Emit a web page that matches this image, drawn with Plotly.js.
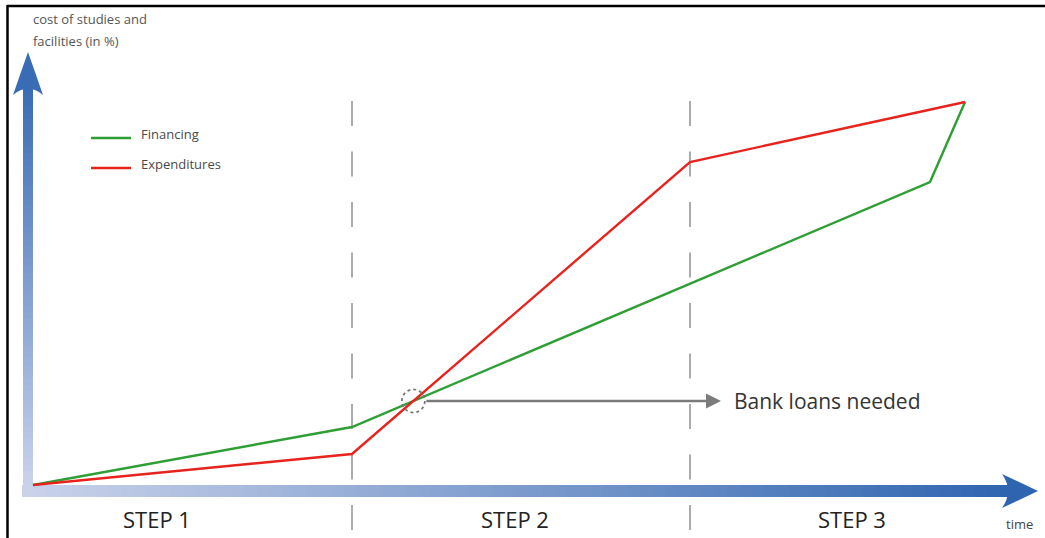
<!DOCTYPE html>
<html>
<head>
<meta charset="utf-8">
<script src="https://cdn.plot.ly/plotly-3.0.1.min.js"></script>
<style>
html,body{margin:0;padding:0;background:#fff;}
#chart{width:1045px;height:538px;}
</style>
</head>
<body>
<div id="chart"></div>
<script>
// ---- data ----
const seriesNames = ["Financing", "Expenditures"];
const financingTime = [0, 31.9, 89.7, 93.2];
const financingCost = [0, 14.5, 75.75, 95.75];
const expendituresTime = [0, 31.9, 65.7, 93.2];
const expendituresCost = [0, 7.75, 80.75, 95.75];
const stepBoundaries = [31.9, 65.7];
const stepLabels = ["STEP 1", "STEP 2", "STEP 3"];
const stepCenters = [12.4, 48.2, 81.9];
const annotationText = "Bank loans needed";
const yTitleLines = ["cost of studies and", "facilities (in %)"];
const xTitle = "time";

// ---- helpers (pixel <-> data for decoration) ----
const px2x = p => (p - 33) / 10;
const py2y = p => (485 - p) / 4;
const FONT = "'Open Sans', sans-serif";
const GREEN = "#2f9e35";
const RED = "#e8231d";

function hexToRgb(h){h=h.replace('#','');return [0,2,4].map(i=>parseInt(h.substr(i,2),16));}
function mix(a,b,t){const A=hexToRgb(a),B=hexToRgb(b);return 'rgb('+A.map((v,i)=>Math.round(v+(B[i]-v)*t)).join(',')+')';}

// intersection of the two series (beyond origin)
function findCross(){
  for(let i=0;i<financingTime.length-1;i++){
    for(let j=0;j<expendituresTime.length-1;j++){
      const x1=financingTime[i],y1=financingCost[i],x2=financingTime[i+1],y2=financingCost[i+1];
      const x3=expendituresTime[j],y3=expendituresCost[j],x4=expendituresTime[j+1],y4=expendituresCost[j+1];
      const d=(x1-x2)*(y3-y4)-(y1-y2)*(x3-x4);
      if(Math.abs(d)<1e-9) continue;
      const t=((x1-x3)*(y3-y4)-(y1-y3)*(x3-x4))/d;
      const u=-((x1-x2)*(y1-y3)-(y1-y2)*(x1-x3))/d;
      if(t>=0&&t<=1&&u>=0&&u<=1){
        const cx=x1+t*(x2-x1), cy=y1+t*(y2-y1);
        if(cx>1) return [cx,cy];
      }
    }
  }
  return [0,0];
}
const cross = findCross();

const shapes = [];
// frame
shapes.push({type:'line',xref:'paper',yref:'paper',x0:7/1045,x1:1,y0:1-6/538,y1:1-6/538,line:{color:'#000',width:2.5}});
shapes.push({type:'line',xref:'paper',yref:'paper',x0:7.5/1045,x1:7.5/1045,y0:0,y1:1-5/538,line:{color:'#000',width:2.5}});

// horizontal gradient arrow shaft
const NH = 80, hx0 = 22, hx1 = 1012;
for(let i=0;i<NH;i++){
  const a = hx0 + (hx1-hx0)*i/NH, b = hx0 + (hx1-hx0)*(i+1)/NH + 0.8;
  shapes.push({type:'rect',layer:'below',x0:px2x(a),x1:px2x(b),y0:py2y(485),y1:py2y(497),
    fillcolor:mix('#cad2ea','#2f65b0',i/(NH-1)),line:{width:0}});
}
shapes.push({type:'path',layer:'below',
  path:`M ${px2x(1002)},${py2y(474)} L ${px2x(1038)},${py2y(491)} L ${px2x(1002)},${py2y(508)} Q ${px2x(1014)},${py2y(491)} ${px2x(1002)},${py2y(474)} Z`,
  fillcolor:'#2f65b0',line:{width:0}});

// vertical gradient arrow shaft
const NV = 60, vy0 = 485, vy1 = 86;
for(let i=0;i<NV;i++){
  const a = vy0 + (vy1-vy0)*i/NV, b = vy0 + (vy1-vy0)*(i+1)/NV - 0.8;
  shapes.push({type:'rect',layer:'below',x0:px2x(23),x1:px2x(33),y0:py2y(a),y1:py2y(b),
    fillcolor:mix('#c9d1ea','#3a6cb5',i/(NV-1)),line:{width:0}});
}
shapes.push({type:'path',layer:'below',
  path:`M ${px2x(13)},${py2y(95)} L ${px2x(28)},${py2y(52)} L ${px2x(43)},${py2y(95)} Q ${px2x(28)},${py2y(82)} ${px2x(13)},${py2y(95)} Z`,
  fillcolor:'#3a6cb5',line:{width:0}});

// step boundaries (dashed)
stepBoundaries.forEach(b=>{
  shapes.push({type:'line',layer:'below',x0:b,x1:b,y0:py2y(101),y1:py2y(530),
    line:{color:'#ababab',width:2,dash:'25px,25.5px'}});
});

// dotted circle at crossing
shapes.push({type:'circle',x0:cross[0]-1.15,x1:cross[0]+1.15,y0:cross[1]-2.9,y1:cross[1]+2.9,
  line:{color:'#777',width:1.8,dash:'dot'}});

// legend samples
shapes.push({type:'line',x0:px2x(91),x1:px2x(131),y0:py2y(138),y1:py2y(138),line:{color:GREEN,width:2.6}});
shapes.push({type:'line',x0:px2x(91),x1:px2x(131),y0:py2y(168),y1:py2y(168),line:{color:RED,width:2.6}});

const annotations = [];
annotations.push({x:px2x(139),y:py2y(134),text:seriesNames[0],showarrow:false,xanchor:'left',yanchor:'middle',font:{family:FONT,size:13,color:'#4a4a4a'}});
annotations.push({x:px2x(139),y:py2y(164),text:seriesNames[1],showarrow:false,xanchor:'left',yanchor:'middle',font:{family:FONT,size:13,color:'#4a4a4a'}});
annotations.push({x:px2x(31),y:py2y(19),text:yTitleLines[0],showarrow:false,xanchor:'left',yanchor:'middle',font:{family:FONT,size:13,color:'#555'}});
annotations.push({x:px2x(31),y:py2y(41),text:yTitleLines[1],showarrow:false,xanchor:'left',yanchor:'middle',font:{family:FONT,size:13,color:'#555'}});
annotations.push({x:px2x(1019),y:py2y(524),text:xTitle,showarrow:false,xanchor:'center',yanchor:'middle',font:{family:FONT,size:13,color:'#444'}});
stepLabels.forEach((s,i)=>{
  annotations.push({x:stepCenters[i],y:py2y(519),text:s,showarrow:false,xanchor:'center',yanchor:'middle',font:{family:FONT,size:22,color:'#222'}});
});
// bank loans arrow
annotations.push({x:px2x(721),y:cross[1],ax:cross[0]+1.15,ay:cross[1],axref:'x',ayref:'y',text:'',showarrow:true,
  arrowhead:2,arrowsize:1.2,arrowwidth:2.5,arrowcolor:'#7b7b7b',standoff:0,startstandoff:0});
annotations.push({x:px2x(732),y:cross[1],text:annotationText,showarrow:false,xanchor:'left',yanchor:'middle',
  font:{family:FONT,size:21,color:'#333'}});

const traces = [
  {x:financingTime,y:financingCost,name:seriesNames[0],type:'scatter',mode:'lines',line:{color:GREEN,width:2.4},hoverinfo:'skip'},
  {x:expendituresTime,y:expendituresCost,name:seriesNames[1],type:'scatter',mode:'lines',line:{color:RED,width:2.4},hoverinfo:'skip'}
];

const layout = {
  width:1045,height:538,autosize:false,
  margin:{l:0,r:0,t:0,b:0,pad:0},
  paper_bgcolor:'#fff',plot_bgcolor:'#fff',
  showlegend:false,
  xaxis:{range:[px2x(0),px2x(1045)],visible:false,fixedrange:true},
  yaxis:{range:[py2y(538),py2y(0)],visible:false,fixedrange:true},
  shapes:shapes,annotations:annotations
};
Plotly.newPlot('chart',traces,layout,{staticPlot:true,displayModeBar:false});
</script>
</body>
</html>
